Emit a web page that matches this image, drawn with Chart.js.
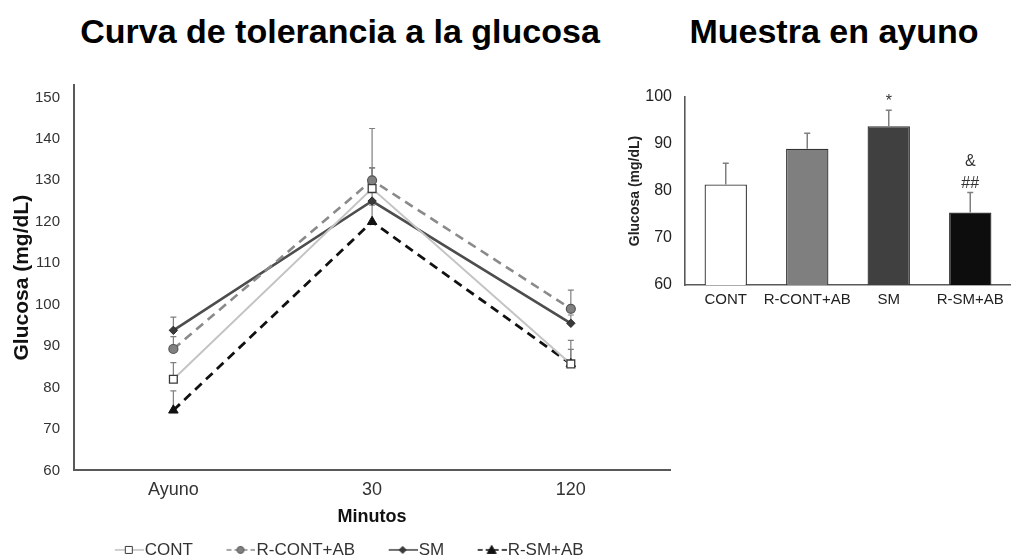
<!DOCTYPE html>
<html lang="es">
<head>
<meta charset="utf-8">
<title>Glucosa</title>
<script src="https://cdn.jsdelivr.net/npm/chart.js@4.4.0/dist/chart.umd.min.js"></script>
<style>
  html, body { margin: 0; padding: 0; width: 1011px; height: 560px; overflow: hidden; background: #fff; }
  .panel-title {
    position: absolute; top: 14px; transform: translateX(-50%);
    font-family: "Liberation Sans", Arial, sans-serif; font-weight: bold;
    font-size: 34px; line-height: 34px; color: #000; white-space: nowrap;
  }
  #curveBox { position: absolute; left: 0; top: 0; width: 677px; height: 580px; }
  #fastBox  { position: absolute; left: 620px; top: 60px; width: 391px; height: 280px; }
</style>
</head>
<body>
<div class="panel-title" style="left:340px">Curva de tolerancia a la glucosa</div>
<div class="panel-title" style="left:834px">Muestra en ayuno</div>
<div id="curveBox"><canvas id="curve"></canvas></div>
<div id="fastBox"><canvas id="fast"></canvas></div>

<script>
// ---- data ----
const timeLabels = ['Ayuno', '30', '120'];
const groupNames = ['CONT', 'R-CONT+AB', 'SM', 'R-SM+AB'];

// tolerance curve: mean and upper SEM per time point
const contMean  = [82.0, 128.0, 85.7];
const contErr   = [4.0, 14.5, 5.7];
const rContMean = [89.3, 130.0, 99.0];
const rContErr  = [3.0, 3.0, 4.5];
const smMean    = [93.8, 125.0, 95.5];
const smErr     = [3.2, 8.0, 2.0];
const rSmMean   = [74.5, 120.0, 85.7];
const rSmErr    = [4.7, 4.0, 3.5];

// fasting sample
const fastMean  = [81.4, 89.0, 93.8, 75.4];
const fastErr   = [4.5, 3.3, 3.4, 4.3];
const fastMarks = [[], [], ['*'], ['&', '##']];

const curveTicks = { min: 60, max: 150, step: 10 };
const fastTicks  = { min: 60, max: 100, step: 10 };

// ---- shared styling ----
const FONT = '"Liberation Sans", Arial, sans-serif';
const AXIS = '#595959';
const TEXT = '#333333';

// upper error whiskers, drawn from each mark's own value
const errorBars = {
  id: 'errorBars',
  drawBars(chart, opts) {
    const ctx = chart.ctx, yScale = chart.scales.y;
    chart.data.datasets.forEach((ds, i) => {
      if (!ds.errorPlus) return;
      chart.getDatasetMeta(i).data.forEach((el, j) => {
        const top = yScale.getPixelForValue(ds.data[j] + ds.errorPlus[j]);
        ctx.save();
        ctx.strokeStyle = opts.color;
        ctx.lineWidth = opts.width;
        ctx.beginPath();
        ctx.moveTo(el.x, el.y);
        ctx.lineTo(el.x, top);
        ctx.moveTo(el.x - opts.cap, top);
        ctx.lineTo(el.x + opts.cap, top);
        ctx.stroke();
        ctx.restore();
      });
    });
  },
  beforeDatasetsDraw(chart, args, opts) { if (!opts.front) this.drawBars(chart, opts); },
  afterDatasetsDraw(chart, args, opts) { if (opts.front) this.drawBars(chart, opts); }
};

// significance marks above the whiskers
const sigMarks = {
  id: 'sigMarks',
  afterDatasetsDraw(chart, args, opts) {
    const ds = chart.data.datasets[0];
    const yScale = chart.scales.y;
    const ctx = chart.ctx;
    chart.getDatasetMeta(0).data.forEach((el, j) => {
      const lines = opts.marks[j] || [];
      let base = yScale.getPixelForValue(ds.data[j] + ds.errorPlus[j]) - 4;
      ctx.save();
      ctx.font = '16px ' + FONT;
      ctx.fillStyle = '#333';
      ctx.textAlign = 'center';
      ctx.textBaseline = 'alphabetic';
      for (let k = lines.length - 1; k >= 0; k--) {
        ctx.fillText(lines[k], el.x, base);
        base -= 22;
      }
      ctx.restore();
    });
  }
};

// small line+marker samples for the legend
function legendIcon(s) {
  const c = document.createElement('canvas');
  c.width = 60; c.height = 14;
  const g = c.getContext('2d');
  g.strokeStyle = s.line; g.lineWidth = 1.6;
  g.setLineDash(s.dash ? [5, 3] : []);
  g.beginPath(); g.moveTo(31, 7); g.lineTo(60, 7); g.stroke();
  g.setLineDash([]);
  const cx = 45, cy = 7;
  g.fillStyle = s.fill; g.strokeStyle = s.edge; g.lineWidth = 1;
  g.beginPath();
  if (s.shape === 'rect') { g.rect(cx - 3.5, cy - 3.5, 7, 7); }
  else if (s.shape === 'circle') { g.arc(cx, cy, 3.5, 0, Math.PI * 2); }
  else if (s.shape === 'rectRot') { g.moveTo(cx, cy - 3.5); g.lineTo(cx + 3.5, cy); g.lineTo(cx, cy + 3.5); g.lineTo(cx - 3.5, cy); g.closePath(); }
  else { g.moveTo(cx, cy - 4.5); g.lineTo(cx + 4.5, cy + 3.5); g.lineTo(cx - 4.5, cy + 3.5); g.closePath(); }
  g.fill(); g.stroke();
  return c;
}

const styles = [
  { line: '#c4c4c4', dash: false, shape: 'rect',     fill: '#ffffff', edge: '#3a3a3a' },
  { line: '#8a8a8a', dash: true,  shape: 'circle',   fill: '#808080', edge: '#555555' },
  { line: '#4d4d4d', dash: false, shape: 'rectRot',  fill: '#3a3a3a', edge: '#2a2a2a' },
  { line: '#111111', dash: true,  shape: 'triangle', fill: '#111111', edge: '#111111' }
];

// ---- tolerance curve ----
new Chart(document.getElementById('curve'), {
  type: 'line',
  data: {
    labels: timeLabels,
    datasets: [
      { label: groupNames[0], data: contMean, errorPlus: contErr,
        borderColor: styles[0].line, borderWidth: 2,
        pointStyle: 'rect', pointRadius: 5.5, pointBackgroundColor: '#fff',
        pointBorderColor: styles[0].edge, pointBorderWidth: 1.3 },
      { label: groupNames[1], data: rContMean, errorPlus: rContErr,
        borderColor: styles[1].line, borderWidth: 2.6, borderDash: [9, 6],
        pointStyle: 'circle', pointRadius: 4.5, pointBackgroundColor: styles[1].fill,
        pointBorderColor: styles[1].edge, pointBorderWidth: 1.2 },
      { label: groupNames[2], data: smMean, errorPlus: smErr,
        borderColor: styles[2].line, borderWidth: 2.6,
        pointStyle: 'rectRot', pointRadius: 4.2, pointBackgroundColor: styles[2].fill,
        pointBorderColor: styles[2].edge, pointBorderWidth: 1 },
      { label: groupNames[3], data: rSmMean, errorPlus: rSmErr,
        borderColor: styles[3].line, borderWidth: 2.8, borderDash: [9, 6],
        pointStyle: 'triangle', pointRadius: 5.5, pointBackgroundColor: styles[3].fill,
        pointBorderColor: styles[3].edge, pointBorderWidth: 1 }
    ]
  },
  options: {
    responsive: true, maintainAspectRatio: false, animation: false,
    layout: { padding: { top: 85, right: 2, bottom: 11.6, left: 0 } },
    scales: {
      x: {
        offset: true,
        grid: { display: false, drawTicks: false },
        border: { display: true, color: AXIS, width: 2 },
        ticks: { color: TEXT, font: { family: FONT, size: 18 }, padding: 9, maxRotation: 0 },
        title: { display: true, text: 'Minutos', color: '#111', font: { family: FONT, size: 18, weight: 'bold' }, padding: { top: 0, bottom: 4 } },
        afterFit(s) { s.height = 61; }
      },
      y: {
        min: curveTicks.min, max: curveTicks.max + 3,
        grid: { display: false, drawTicks: false },
        border: { display: true, color: AXIS, width: 2 },
        ticks: { stepSize: curveTicks.step, includeBounds: false, color: TEXT, font: { family: FONT, size: 15 }, padding: 14 },
        title: { display: true, text: 'Glucosa (mg/dL)', color: '#111', font: { family: FONT, size: 21, weight: 'bold' }, padding: { top: 10, bottom: 0 } },
        afterFit(s) { s.width = 74; }
      }
    },
    plugins: {
      tooltip: { enabled: false },
      errorBars: { color: '#7f7f7f', width: 1.2, cap: 3, front: false },
      legend: {
        position: 'bottom',
        labels: {
          usePointStyle: true, pointStyleWidth: 45, padding: 10,
          color: TEXT, font: { family: FONT, size: 17 },
          generateLabels(chart) {
            return chart.data.datasets.map((ds, i) => ({
              text: ds.label, datasetIndex: i, hidden: false,
              pointStyle: legendIcon(styles[i]), fontColor: TEXT,
              fillStyle: 'transparent', strokeStyle: 'transparent', lineWidth: 0
            }));
          }
        }
      }
    }
  },
  plugins: [errorBars]
});

// ---- fasting bars ----
new Chart(document.getElementById('fast'), {
  type: 'bar',
  data: {
    labels: groupNames,
    datasets: [{
      data: fastMean, errorPlus: fastErr,
      backgroundColor: ['#ffffff', '#7f7f7f', '#404040', '#0d0d0d'],
      borderColor: '#333333', borderWidth: 1.3,
      categoryPercentage: 1, barPercentage: 0.52
    }]
  },
  options: {
    responsive: true, maintainAspectRatio: false, animation: false,
    layout: { padding: { top: 37, right: 0, bottom: 0, left: 0 } },
    scales: {
      x: {
        grid: { display: false, drawTicks: false },
        border: { display: true, color: AXIS, width: 1.6 },
        ticks: { color: '#222', font: { family: FONT, size: 15 }, padding: 6, maxRotation: 0, autoSkip: false },
        afterFit(s) { s.height = 55; }
      },
      y: {
        min: fastTicks.min, max: fastTicks.max,
        grid: { display: false, drawTicks: false },
        border: { display: true, color: AXIS, width: 1.6 },
        ticks: { stepSize: fastTicks.step, color: '#222', font: { family: FONT, size: 16 }, padding: 13 },
        title: { display: true, text: 'Glucosa (mg/dL)', color: '#222', font: { family: FONT, size: 14, weight: 'bold' }, padding: { top: 7, bottom: 0 } },
        afterFit(s) { s.width = 65; }
      }
    },
    plugins: {
      legend: { display: false },
      tooltip: { enabled: false },
      errorBars: { color: '#7f7f7f', width: 1.5, cap: 3, front: true },
      sigMarks: { marks: fastMarks }
    }
  },
  plugins: [errorBars, sigMarks]
});
</script>
</body>
</html>
